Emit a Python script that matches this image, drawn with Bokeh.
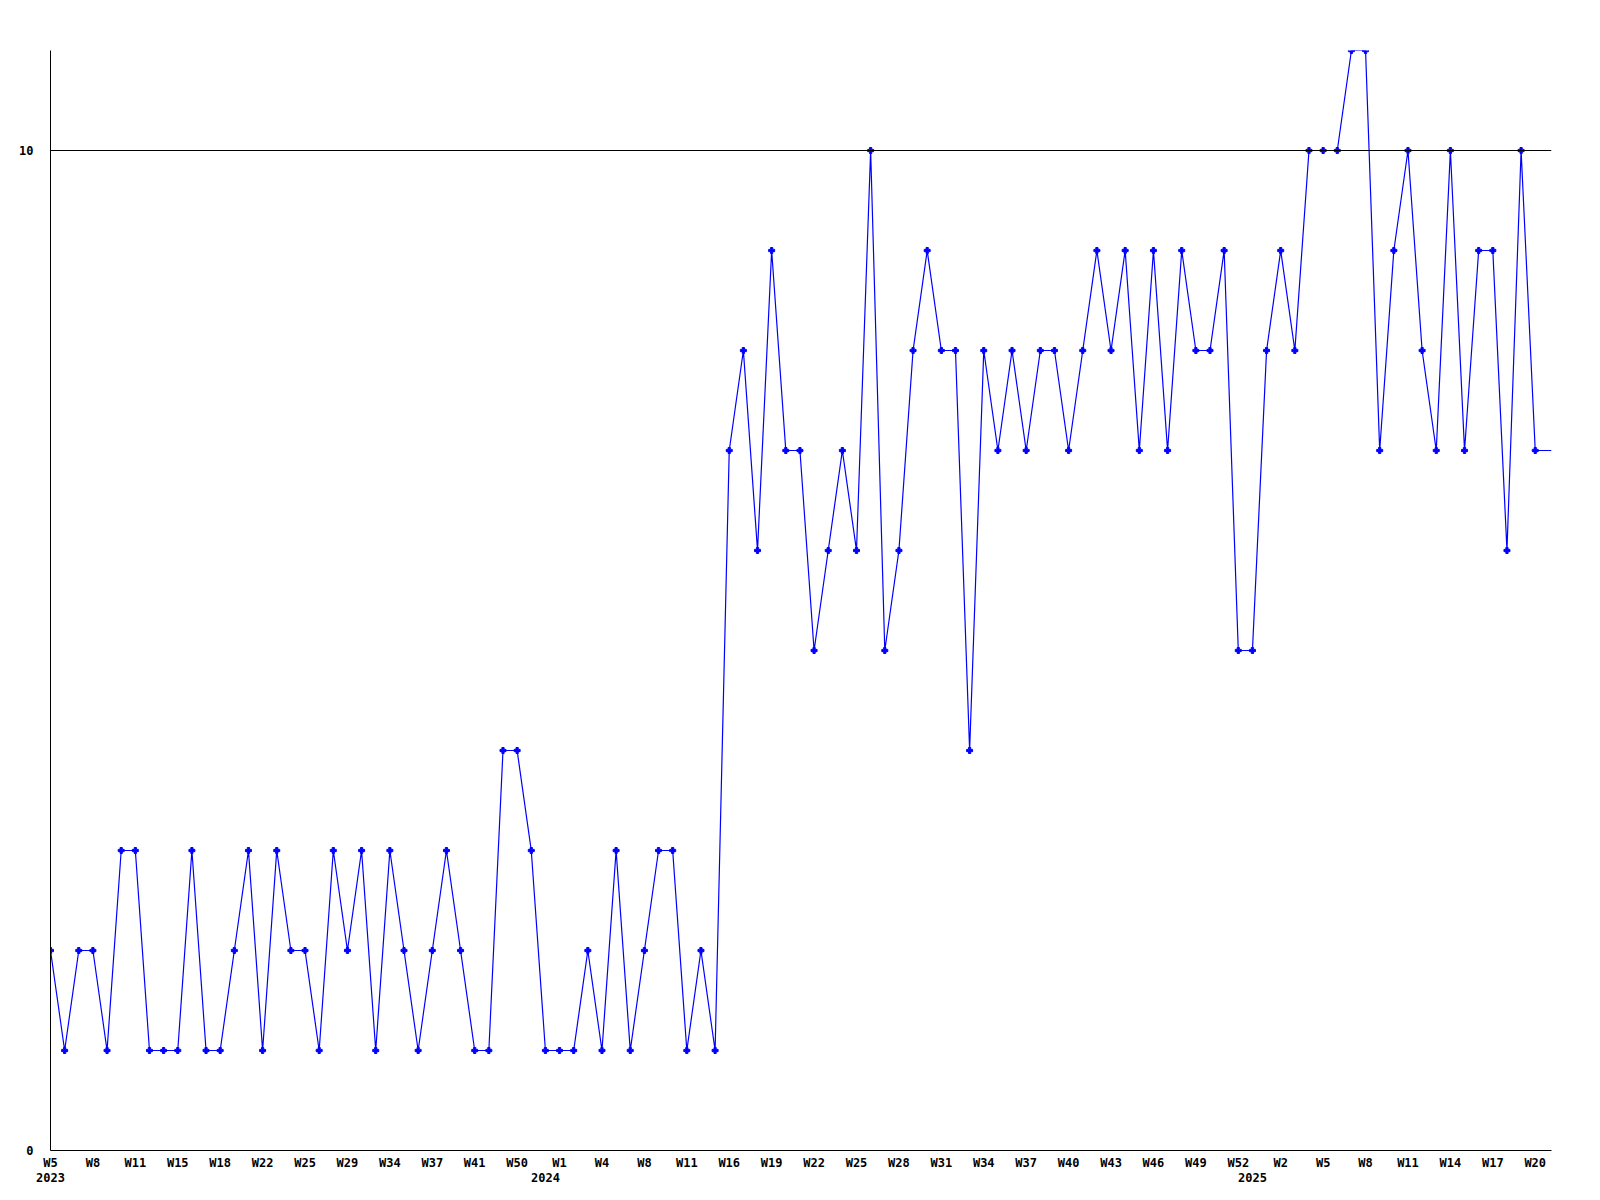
from bokeh.plotting import figure
from bokeh.models import Span, Range1d, LinearAxis, FixedTicker
from bokeh.embed import file_html
from bokeh.resources import INLINE

# weekly counts, 2023 W5 .. 2025 W20 (one value per plotted week)
values = [
    2, 1, 2, 2, 1, 3, 3, 1, 1, 1,
    3, 1, 1, 2, 3, 1, 3, 2, 2, 1,
    3, 2, 3, 1, 3, 2, 1, 2, 3, 2,
    1, 1, 4, 4, 3, 1, 1, 1, 2, 1,
    3, 1, 2, 3, 3, 1, 2, 1, 7, 8,
    6, 9, 7, 7, 5, 6, 7, 6, 10, 5,
    6, 8, 9, 8, 8, 4, 8, 7, 8, 7,
    8, 8, 7, 8, 9, 8, 9, 7, 9, 7,
    9, 8, 8, 9, 5, 5, 8, 9, 8, 10,
    10, 10, 11, 11, 7, 9, 10, 8, 7, 10,
    7, 9, 9, 6, 10, 7,
]

# x tick labels, one every third week
week_labels = [
    "W5", "W8", "W11", "W15", "W18", "W22", "W25", "W29", "W34", "W37", "W41", "W50",
    "W1", "W4", "W8", "W11", "W16", "W19", "W22", "W25", "W28", "W31", "W34", "W37",
    "W40", "W43", "W46", "W49", "W52",
    "W2", "W5", "W8", "W11", "W14", "W17", "W20",
]
week_label_step = 3
year_labels = ["2023", "2024", "2025"]
year_start_index = [0, 35, 85]
y_ticks = [0, 10]
grid_value = 10

BLUE = "#0000ff"
FONT = "DejaVu Sans Mono"

x = list(range(len(values)))
x_end = 106.15
week_ticks = [k * week_label_step for k in range(len(week_labels))]

p = figure(width=1595, height=1195, output_backend="svg", toolbar_location=None,
           x_axis_location=None, y_axis_location=None,
           x_range=Range1d(0, x_end), y_range=Range1d(0, 11),
           min_border_left=50, min_border_right=44,
           min_border_top=50, min_border_bottom=45)
p.outline_line_color = None
p.grid.visible = False
p.background_fill_color = "white"
p.border_fill_color = "white"


def style_axis(ax):
    ax.major_tick_line_color = None
    ax.minor_tick_line_color = None
    ax.major_tick_out = 0
    ax.major_tick_in = 0
    ax.minor_tick_out = 0
    ax.minor_tick_in = 0
    ax.axis_line_color = "black"
    ax.axis_line_width = 1
    ax.major_label_text_font = FONT
    ax.major_label_text_font_style = "bold"
    ax.major_label_text_font_size = "12px"
    ax.major_label_text_color = "black"


# week axis
xa = LinearAxis(ticker=FixedTicker(ticks=week_ticks),
                major_label_overrides={t: lab for t, lab in zip(week_ticks, week_labels)})
style_axis(xa)
xa.major_label_standoff = 5
p.add_layout(xa, "below")

# year axis
ya2 = LinearAxis(ticker=FixedTicker(ticks=year_start_index),
                 major_label_overrides={t: lab for t, lab in zip(year_start_index, year_labels)})
style_axis(ya2)
ya2.axis_line_color = None
ya2.major_label_standoff = 0
p.add_layout(ya2, "below")

# value axis
yax = LinearAxis(ticker=FixedTicker(ticks=y_ticks),
                 major_label_overrides={v: str(v) for v in y_ticks})
style_axis(yax)
yax.major_label_standoff = 17
p.add_layout(yax, "left")

# gridline at 10
p.add_layout(Span(location=grid_value, dimension="width", line_color="black", line_width=1))

# data
p.line(x, values, line_color=BLUE, line_width=1.2)
p.line([x[-1], x_end], [values[-1], values[-1]], line_color=BLUE, line_width=1.2)
p.scatter(x, values, marker="plus", size=6, line_color=BLUE, fill_color=BLUE)

open("out.html", "w").write(file_html(p, INLINE))
